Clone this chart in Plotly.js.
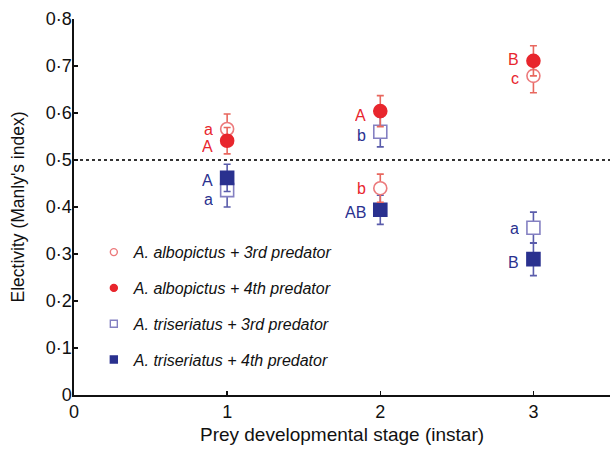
<!DOCTYPE html>
<html>
<head>
<meta charset="utf-8">
<script src="https://cdn.plot.ly/plotly-3.0.1.min.js"></script>
<style>html,body{margin:0;padding:0;background:#fff;}#chart{width:610px;height:453px;}</style>
</head>
<body>
<div id="chart"></div>
<script>
// Data
var stages = [1, 2, 3];
var alb3 = [0.566, 0.440, 0.679];
var alb3Err = [0.032, 0.030, 0.036];
var alb4 = [0.541, 0.604, 0.711];
var alb4Err = [0.028, 0.033, 0.032];
var tri3 = [0.436, 0.560, 0.356];
var tri3Err = [0.036, 0.032, 0.033];
var tri4 = [0.462, 0.394, 0.289];
var tri4Err = [0.029, 0.031, 0.035];
var alb3Letters = ['a', 'b', 'c'];
var alb4Letters = ['A', 'A', 'B'];
var tri3Letters = ['a', 'b', 'a'];
var tri4Letters = ['A', 'AB', 'B'];
var seriesNames = ['A. albopictus + 3rd predator', 'A. albopictus + 4th predator',
                   'A. triseriatus + 3rd predator', 'A. triseriatus + 4th predator'];
var yTickVals = [0, 0.1, 0.2, 0.3, 0.4, 0.5, 0.6, 0.7, 0.8];
var yTickText = ['0', '0·1', '0·2', '0·3', '0·4', '0·5', '0·6', '0·7', '0·8'];
var xTickVals = [0, 1, 2, 3];

var RED = '#e8262d', RED_L = '#ec7a7c', RED_E = '#e8675e';
var BLUE = '#2a318f', BLUE_L = '#8480c2', BLUE_E = '#5a5cab';
var FONT = 'Liberation Sans, Arial, sans-serif';

function series(y, err, sym, fill, line, ecol) {
  return {
    x: stages, y: y, type: 'scatter', mode: 'markers', showlegend: false,
    error_y: {type: 'data', array: err, visible: true, color: ecol, thickness: 1.6, width: 3.5},
    marker: {symbol: sym, size: 13, color: fill, line: {color: line, width: 1.6}}
  };
}
function legendItem(name, sym, fill, line, size) {
  return {
    x: [null], y: [null], type: 'scatter', mode: 'markers', name: name, legendgroup: name,
    marker: {symbol: sym, size: size, color: fill, line: {color: line, width: 1.4}}
  };
}

var data = [
  series(tri3, tri3Err, 'square', '#ffffff', BLUE_L, BLUE_E),
  series(tri4, tri4Err, 'square', BLUE, BLUE, BLUE_E),
  series(alb3, alb3Err, 'circle', '#ffffff', RED_L, RED_E),
  series(alb4, alb4Err, 'circle', RED, RED, RED_E),
  legendItem(seriesNames[0], 'circle', '#ffffff', RED_L, 7),
  legendItem(seriesNames[1], 'circle', RED, RED, 7),
  legendItem(seriesNames[2], 'square', '#ffffff', BLUE_L, 7),
  legendItem(seriesNames[3], 'square', BLUE, BLUE, 7)
];

// small vertical nudges (px) keeping stacked letters apart, per series per stage
var nudge = {
  alb3: [0, 0, -2], alb4: [-5, -4, 2], tri3: [-9, -3, 0], tri4: [-2, -2, -3]
};
var annotations = [];
function addLetters(y, letters, color, nd) {
  for (var i = 0; i < stages.length; i++) {
    annotations.push({
      x: stages[i], y: y[i], xref: 'x', yref: 'y', text: letters[i], showarrow: false,
      xanchor: 'right', yanchor: 'middle', xshift: -12, yshift: nd[i], height: 14,
      font: {family: FONT, size: 16, color: color}
    });
  }
}
addLetters(alb3, alb3Letters, RED, nudge.alb3);
addLetters(alb4, alb4Letters, RED, nudge.alb4);
addLetters(tri3, tri3Letters, BLUE, nudge.tri3);
addLetters(tri4, tri4Letters, BLUE, nudge.tri4);

var layout = {
  width: 610, height: 453,
  margin: {l: 74, r: 0, t: 19, b: 58},
  paper_bgcolor: '#ffffff', plot_bgcolor: '#ffffff',
  font: {family: FONT, size: 18, color: '#111'},
  xaxis: {
    range: [0, 3.5], tickvals: xTickVals, ticks: 'inside', ticklen: 4, tickwidth: 1.5, tickcolor: '#111',
    showline: true, linecolor: '#111', linewidth: 1.6, showgrid: false, zeroline: false,
    title: {text: 'Prey developmental stage (instar)', font: {size: 19}, standoff: 6},
    tickfont: {size: 18}
  },
  yaxis: {
    range: [0, 0.8], tickvals: yTickVals, ticktext: yTickText, ticks: 'inside', ticklen: 4, tickwidth: 1.5,
    tickcolor: '#111', showline: true, linecolor: '#111', linewidth: 1.6, showgrid: false, zeroline: false,
    ticklabelstandoff: -3,
    title: {text: "Electivity (Manly's index)", font: {size: 17.5}, standoff: 16},
    tickfont: {size: 18}
  },
  shapes: [
    {type: 'line', xref: 'paper', yref: 'y', x0: 0, x1: 1, y0: 0.5, y1: 0.5,
     line: {color: '#333', width: 2.2, dash: 'dot'}, layer: 'below'}
  ],
  annotations: annotations,
  legend: {
    x: 0.037, y: 0.425, xanchor: 'left', yanchor: 'top', bgcolor: 'rgba(0,0,0,0)',
    tracegroupgap: 12,
    font: {family: FONT, size: 16, color: '#111', style: 'italic'}
  }
};

Plotly.newPlot('chart', data, layout, {displayModeBar: false, staticPlot: true});
</script>
</body>
</html>
